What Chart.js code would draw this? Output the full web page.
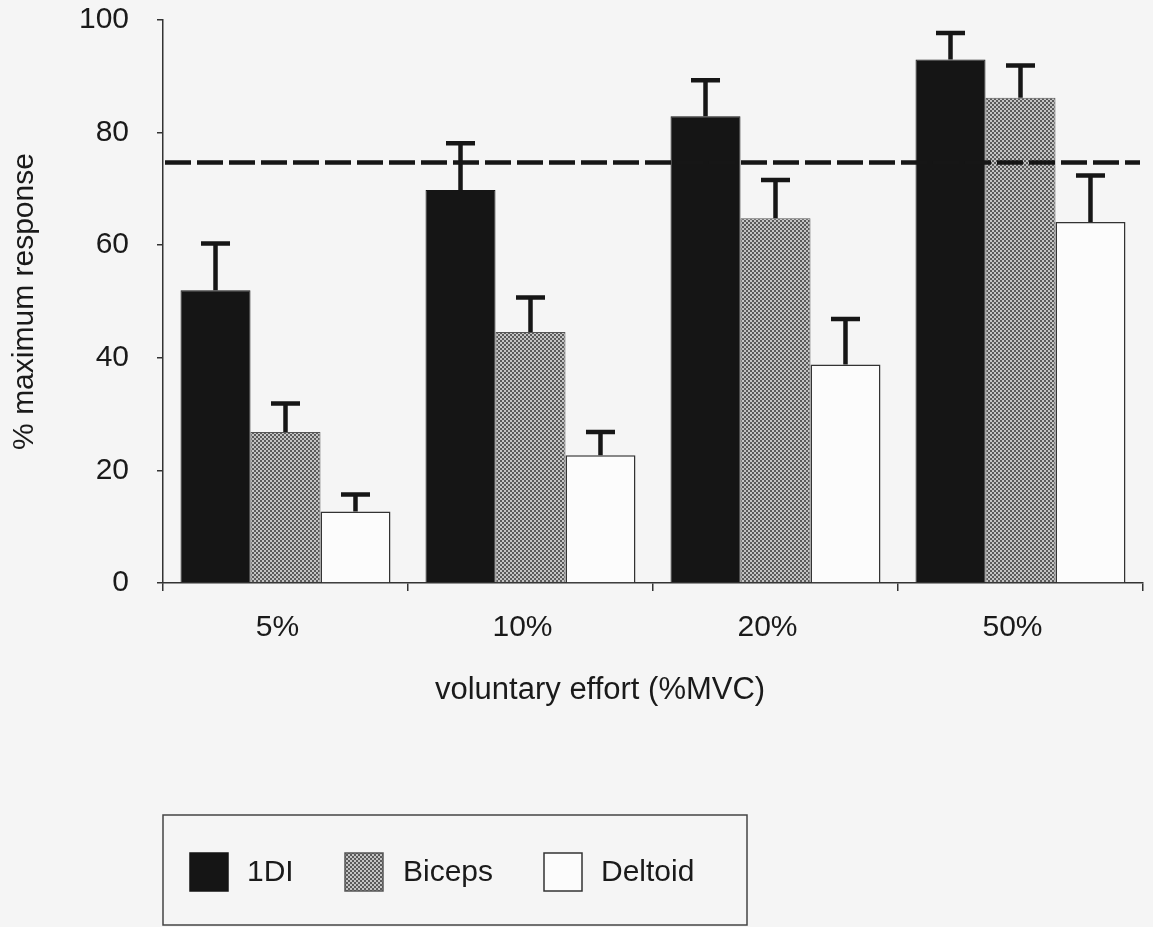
<!DOCTYPE html>
<html lang="en">
<head>
<meta charset="UTF-8">
<title>Response vs voluntary effort</title>
<script src="https://cdn.jsdelivr.net/npm/chart.js"></script>
<style>
  html, body { margin: 0; padding: 0; background: #f5f5f5; }
  #wrap { width: 1153px; height: 927px; }
</style>
</head>
<body>
<div id="wrap"><canvas id="effortChart" width="1153" height="927"></canvas></div>
<script>
// mean % maximum response, with the upper error bar length for each
const efforts = ['5%', '10%', '20%', '50%'];
const fdiMean = [52.0, 69.8, 82.9, 93.0];
const fdiErr = [8.3, 8.3, 6.4, 4.7];
const bicepsMean = [26.8, 44.6, 64.8, 86.2];
const bicepsErr = [5.1, 6.1, 6.8, 5.7];
const deltoidMean = [12.7, 22.7, 38.8, 64.1];
const deltoidErr = [3.0, 4.1, 8.1, 8.3];
const thresholdLevel = 74.7;
const yTicks = [0, 20, 40, 60, 80, 100];

const FONT = "'Liberation Sans', Arial, Helvetica, sans-serif";
const INK = '#1a1a1a';

const canvas = document.getElementById('effortChart');
const ctx = canvas.getContext('2d');

// fine checker stipple for the biceps bars
function stipple() {
  const tile = document.createElement('canvas');
  tile.width = 4; tile.height = 4;
  const g = tile.getContext('2d');
  g.fillStyle = '#c4c4c4';
  g.fillRect(0, 0, 4, 4);
  g.fillStyle = '#5a5a5a';
  g.fillRect(0, 0, 2, 2);
  g.fillRect(2, 2, 2, 2);
  return ctx.createPattern(tile, 'repeat');
}

// upward error bars plus the dashed reference level
const overlays = {
  id: 'overlays',
  afterDatasetsDraw(chart) {
    const c = chart.ctx;
    const y = chart.scales.y;
    const area = chart.chartArea;
    c.save();
    c.strokeStyle = '#161616';
    c.lineWidth = 4.5;
    c.lineCap = 'butt';
    chart.data.datasets.forEach((ds, i) => {
      chart.getDatasetMeta(i).data.forEach((bar, j) => {
        const top = y.getPixelForValue(ds.data[j] + ds.errPlus[j]);
        c.beginPath();
        c.moveTo(bar.x, bar.y);
        c.lineTo(bar.x, top);
        c.moveTo(bar.x - 14.5, top);
        c.lineTo(bar.x + 14.5, top);
        c.stroke();
      });
    });
    const ly = y.getPixelForValue(thresholdLevel);
    c.setLineDash([26, 6]);
    c.lineWidth = 4.5;
    c.beginPath();
    c.moveTo(area.left + 2, ly);
    c.lineTo(area.right - 3, ly);
    c.stroke();
    c.restore();
  },
  afterDraw(chart) {
    const c = chart.ctx;
    const area = chart.chartArea;
    c.save();
    // x axis title
    c.fillStyle = INK;
    c.font = '31px ' + FONT;
    c.textAlign = 'center';
    c.textBaseline = 'alphabetic';
    c.fillText('voluntary effort (%MVC)', area.left + area.width * 0.446, 699);

    // boxed legend
    const boxLeft = area.left, boxTop = 815, boxW = 584, boxH = 110;
    c.strokeStyle = '#444';
    c.lineWidth = 1.5;
    c.strokeRect(boxLeft, boxTop, boxW, boxH);
    const swatchX = [27, 182, 381];
    const labelX = [84, 240, 438];
    c.font = '30px ' + FONT;
    c.textAlign = 'left';
    c.textBaseline = 'middle';
    chart.data.datasets.forEach((ds, i) => {
      const sx = boxLeft + swatchX[i];
      c.fillStyle = ds.backgroundColor;
      c.fillRect(sx, 853, 38, 38);
      c.strokeStyle = ds.borderColor;
      c.lineWidth = 1.5;
      c.strokeRect(sx, 853, 38, 38);
      c.fillStyle = INK;
      c.fillText(ds.label, boxLeft + labelX[i], 873);
    });
    c.restore();
  }
};

new Chart(ctx, {
  type: 'bar',
  data: {
    labels: efforts,
    datasets: [
      { label: '1DI', data: fdiMean, errPlus: fdiErr,
        backgroundColor: '#151515', borderColor: '#151515', borderWidth: 1 },
      { label: 'Biceps', data: bicepsMean, errPlus: bicepsErr,
        backgroundColor: stipple(), borderColor: '#555', borderWidth: 1 },
      { label: 'Deltoid', data: deltoidMean, errPlus: deltoidErr,
        backgroundColor: '#fcfcfc', borderColor: '#333', borderWidth: 1.5 }
    ]
  },
  options: {
    responsive: false,
    animation: false,
    categoryPercentage: 0.857,
    barPercentage: 1.0,
    layout: { padding: { top: 20, right: 10, left: 0, bottom: 0 } },
    plugins: {
      legend: { display: false },
      tooltip: { enabled: false }
    },
    scales: {
      x: {
        grid: { offset: true, drawOnChartArea: false, tickLength: 8, color: '#333', lineWidth: 1.5 },
        border: { color: '#333', width: 1.5 },
        ticks: { color: INK, font: { size: 30, family: FONT }, padding: 19, labelOffset: -8 },
        afterFit(scale) {
          scale.height = 344;
          scale.paddingLeft = 0;
          scale.paddingRight = 0;
        }
      },
      y: {
        min: 0,
        max: 100,
        afterBuildTicks(scale) { scale.ticks = yTicks.map(v => ({ value: v })); },
        grid: { drawOnChartArea: false, tickLength: 6, color: '#333', lineWidth: 1.5 },
        border: { color: '#333', width: 1.5 },
        ticks: { color: INK, font: { size: 30, family: FONT }, padding: 28 },
        title: {
          display: true,
          text: '% maximum response',
          color: INK,
          font: { size: 30, family: FONT },
          padding: { top: 7, bottom: 0 }
        },
        afterFit(scale) {
          scale.width = 163;
          scale.paddingTop = 0;
          scale.paddingBottom = 0;
        }
      }
    }
  },
  plugins: [overlays]
});
</script>
</body>
</html>
